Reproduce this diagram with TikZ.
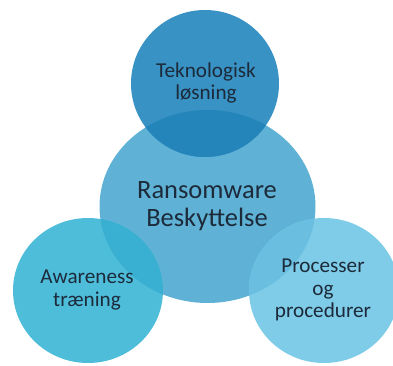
\documentclass[tikz,border=0pt]{standalone}
\usepackage{fontspec}
\setmainfont{Carlito}
\usetikzlibrary{shapes.geometric}
\definecolor{cTop}{RGB}{56,146,196}
\definecolor{cTopOv}{RGB}{36,133,187}
\definecolor{cCenter}{RGB}{95,178,213}
\definecolor{cLeft}{RGB}{78,189,218}
\definecolor{cLeftOv}{RGB}{57,176,209}
\definecolor{cRight}{RGB}{127,204,232}
\definecolor{cRightOv}{RGB}{106,191,224}
\definecolor{cText}{RGB}{28,42,58}
\tikzset{
  blob/.style={ellipse, inner sep=0pt, draw=none},
  small/.style={align=center, text=cText, font=\fontsize{21.2}{22.5}\selectfont},
  big/.style={align=center, text=cText, font=\fontsize{26.5}{28.5}\selectfont},
}
\begin{document}
\begin{tikzpicture}[x=1pt,y=1pt]
\useasboundingbox (0,0) rectangle (393,365);
\clip (0,0) rectangle (393,365);
\node[blob, fill=cCenter, minimum width=216pt, minimum height=193pt] (c) at (207.5,158.5) {};
\node[blob, fill=cTop, minimum width=148pt, minimum height=147pt] (t) at (205,281.5) {};
\node[blob, fill=cLeft, minimum width=150pt, minimum height=145pt] (l) at (88,74.5) {};
\node[blob, fill=cRight, minimum width=150pt, minimum height=145pt] (r) at (324,74.5) {};
\begin{scope}
  \clip (c.center) ellipse [x radius=108, y radius=96.5];
  \fill[cTopOv] (t.center) ellipse [x radius=74, y radius=73.5];
  \fill[cLeftOv] (l.center) ellipse [x radius=75, y radius=72.5];
  \fill[cRightOv] (r.center) ellipse [x radius=75, y radius=72.5];
\end{scope}
\node[big] (ct) at (207,159) {Ransomware\\Beskyttelse};
\node[small] (tt) at (206,282) {Teknologisk\\løsning};
\node[small] (lt) at (87,75) {Awareness\\træning};
\node[small] (rt) at (323,75) {Processer\\og\\procedurer};
\end{tikzpicture}
\end{document}
